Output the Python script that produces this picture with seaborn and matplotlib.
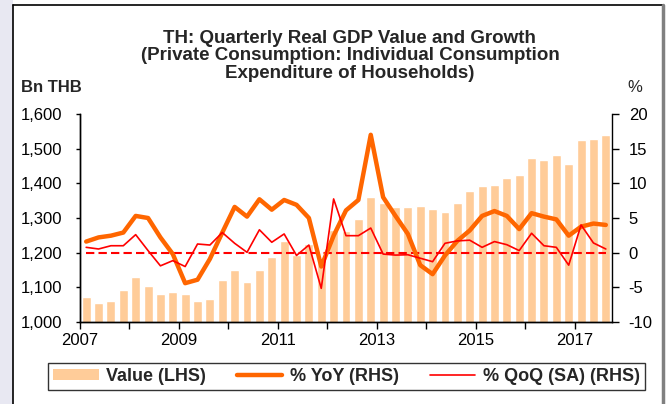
import matplotlib
matplotlib.use('Agg')
import matplotlib.pyplot as plt
from matplotlib.lines import Line2D
from matplotlib.patches import Rectangle, Patch
import seaborn as sns
import pandas as pd
import numpy as np

# Quarterly data 2007Q1 - 2017Q3
years = list(range(2007, 2018))
quarters = [f'{y}Q{q}' for y in years for q in range(1, 5)][:43]

# Real private consumption, Bn THB (LHS)
value = [1073, 1054, 1061, 1092, 1131, 1105, 1080, 1087,
         1080, 1061, 1067, 1121, 1150, 1114, 1150, 1188,
         1234, 1193, 1225, 1185, 1265, 1262, 1297, 1361,
         1342, 1331, 1331, 1336, 1325, 1318, 1344, 1378,
         1393, 1395, 1415, 1423, 1473, 1467, 1483, 1457,
         1526, 1529, 1540]

# % YoY (RHS)
yoy = [1.6, 2.2, 2.45, 2.9, 5.3, 5.0, 2.2, -0.2,
       -4.4, -3.9, -0.9, 2.9, 6.6, 5.2, 7.7, 6.2,
       7.6, 6.9, 5.0, -2.0, 2.45, 6.1, 7.6, 17.0,
       8.0, 5.3, 2.7, -1.8, -3.1, -0.4, 1.7, 3.2,
       5.3, 6.0, 5.3, 3.4, 5.7, 5.2, 4.8, 2.45,
       3.75, 4.2, 4.0]

# % QoQ seasonally adjusted (RHS)
qoq = [0.77, 0.53, 1.0, 1.0, 2.6, 0.3, -1.9, -1.15,
       -2.0, 1.25, 1.1, 2.9, 1.35, 0.05, 3.3, 1.5,
       2.7, -0.4, 1.1, -5.15, 7.75, 2.45, 2.45, 3.55,
       -0.2, -0.35, -0.3, -0.8, -1.3, 1.35, 1.7, 1.8,
       0.77, 1.6, 1.15, 0.3, 2.8, 1.0, 0.77, -1.8,
       4.0, 1.4, 0.53]

df = pd.DataFrame({'Quarter': quarters, 'Value': value, 'YoY': yoy, 'QoQ': qoq})
df['pos'] = np.arange(len(df))

sns.set_theme(style='ticks')
plt.rcParams['font.family'] = ['Liberation Sans', 'DejaVu Sans']
plt.rcParams['axes.unicode_minus'] = False

fig = plt.figure(figsize=(6.69, 4.04), dpi=100)
fig.patch.set_facecolor('white')

# lavender strip and frame
fig.add_artist(Rectangle((0, 0), 13 / 669, 1, transform=fig.transFigure,
                         facecolor='#E8E8F2', edgecolor='none', zorder=0))
fig.add_artist(Line2D([13 / 669, 13 / 669], [0, 1 - 5 / 404], transform=fig.transFigure,
                      color='black', lw=1.2))
fig.add_artist(Line2D([13 / 669, 663 / 669], [1 - 5 / 404, 1 - 5 / 404], transform=fig.transFigure,
                      color='black', lw=1.2))
fig.add_artist(Line2D([663 / 669, 663 / 669], [0, 1 - 5 / 404], transform=fig.transFigure,
                      color='#808080', lw=2.5))

ax = fig.add_axes([80 / 669, 1 - 322 / 404, 532 / 669, 208 / 404])

# bars on left axis
sns.barplot(data=df, x='Quarter', y='Value', color='#FFCC99', saturation=1,
            width=0.72, ax=ax)
ax.set_ylim(1000, 1600)
ax.set_yticks(range(1000, 1601, 100))
ax.set_yticklabels([f'{v:,}' for v in range(1000, 1601, 100)])
ax.set_xlim(-0.5, 42.5)
ax.set_xticks(np.arange(-0.5, 40, 4))
ax.set_xticklabels([str(y) if (y - 2007) % 2 == 0 else '' for y in years])
ax.set_xlabel('')
ax.set_ylabel('')

# lines on right axis
ax2 = ax.twinx()
ax2.hlines(0, 0, len(df) - 1, colors='red', linestyles=(0, (4, 2)), lw=1.5)
sns.lineplot(data=df, x='pos', y='YoY', color='#FF6600', lw=3.2, ax=ax2)
sns.lineplot(data=df, x='pos', y='QoQ', color='#FF0000', lw=1.2, ax=ax2)
ax2.set_ylim(-10, 20)
ax2.set_yticks(range(-10, 21, 5))
ax2.set_xlim(-0.5, 42.5)
ax2.set_xlabel('')
ax2.set_ylabel('')

for a in (ax, ax2):
    a.spines['top'].set_visible(False)
    for s in ('left', 'right', 'bottom'):
        a.spines[s].set_color('black')
        a.spines[s].set_linewidth(1)
ax.spines['right'].set_visible(False)
ax.tick_params(axis='y', direction='out', length=3, width=1, pad=10, labelsize=12, colors='black')
ax.tick_params(axis='x', direction='out', length=5, width=1, pad=3, labelsize=12, colors='black')
ax2.tick_params(axis='y', direction='out', length=5, width=1, pad=7, labelsize=12, colors='black')

# titles
fig.text(0.523, 1 - 56 / 404,
         'TH: Quarterly Real GDP Value and Growth\n(Private Consumption: Individual Consumption\nExpenditure of Households)',
         ha='center', va='center', fontsize=13.5, fontweight='bold', linespacing=1.02)
fig.text(21 / 669, 1 - 88 / 404, 'Bn THB', ha='left', va='center', fontsize=12, fontweight='bold')
fig.text(627 / 669, 1 - 87 / 404, '%', ha='left', va='center', fontsize=12)

# legend
handles = [Patch(facecolor='#FFCC99', edgecolor='none'),
           Line2D([], [], color='#FF6600', lw=3.2),
           Line2D([], [], color='#FF0000', lw=1.2)]
labels = ['Value (LHS)', '% YoY (RHS)', '% QoQ (SA) (RHS)']
leg = fig.legend(handles, labels, loc='center', ncol=3, mode='expand',
                 bbox_to_anchor=(48 / 669, 1 - 392 / 404, 597 / 669, 31 / 404),
                 prop={'weight': 'bold', 'size': 13}, frameon=True, fancybox=False,
                 handlelength=2.5, handleheight=0.5, handletextpad=0.4, borderaxespad=0,
                 borderpad=0.3, columnspacing=1.0)
leg.get_frame().set_edgecolor('black')
leg.get_frame().set_linewidth(1)

fig.savefig('out.png', dpi=100)
